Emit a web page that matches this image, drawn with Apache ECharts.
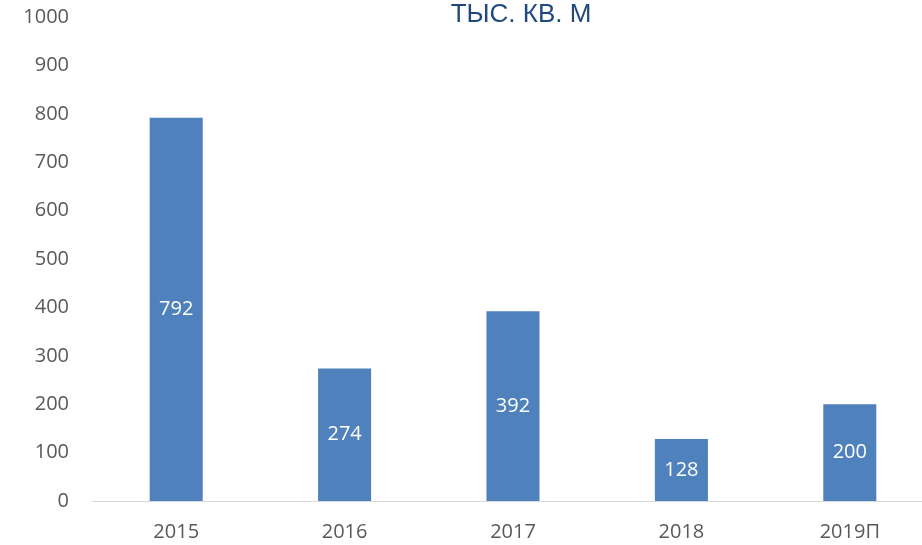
<!DOCTYPE html>
<html>
<head>
<meta charset="utf-8">
<script src="https://cdn.jsdelivr.net/npm/echarts@6/dist/echarts.min.js"></script>
<style>html,body{margin:0;padding:0;background:#fff;overflow:hidden;width:922px;height:545px}#c{width:934px;height:545px}</style>
</head>
<body>
<div id="c"></div>
<script>
var categories = ['2015', '2016', '2017', '2018', '2019П'];
var values = [792, 274, 392, 128, 200];
var titleText = 'ТЫС. КВ. М';

var chart = echarts.init(document.getElementById('c'));
chart.setOption({
  animation: false,
  title: {
    text: titleText,
    left: 516, top: -3, textAlign: 'center',
    textStyle: { fontFamily: 'Liberation Sans', fontSize: 26, fontWeight: 'normal', color: '#1F497D' }
  },
  grid: { left: 92, right: 0, top: 17, bottom: 44 },
  xAxis: {
    type: 'category', data: categories,
    axisLine: { lineStyle: { color: '#d9d9d9', width: 1 } },
    axisTick: { show: false },
    axisLabel: { fontFamily: 'Open Sans', fontSize: 20, color: '#595959', margin: 21 }
  },
  yAxis: {
    type: 'value', min: 0, max: 1000, interval: 100,
    splitLine: { show: false },
    axisLine: { show: false }, axisTick: { show: false },
    axisLabel: { fontFamily: 'Open Sans', fontSize: 20, color: '#595959', margin: 23,
      formatter: function (v) { return String(v); } }
  },
  series: [{
    type: 'bar', data: values, barWidth: '31.5%',
    itemStyle: { color: '#4F81BD' },
    label: { show: true, position: 'inside', fontFamily: 'Open Sans', fontSize: 20, color: '#ffffff' }
  }]
});
</script>
</body>
</html>
